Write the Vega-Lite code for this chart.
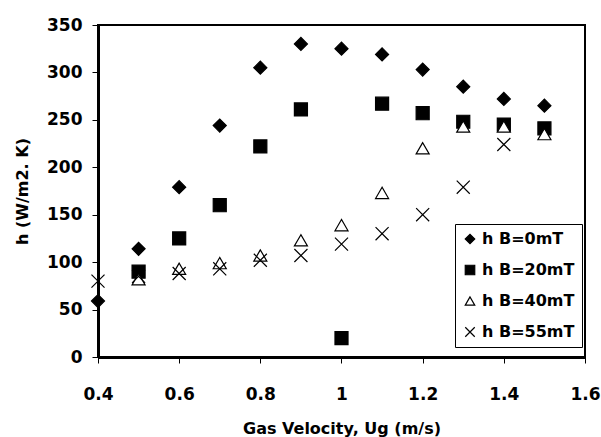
{
  "$schema": "https://vega.github.io/schema/vega-lite/v6.json",
  "width": 487,
  "height": 332,
  "autosize": {"type": "none"},
  "padding": {"left": 98, "top": 25, "right": 16, "bottom": 80},
  "background": "white",
  "config": {
    "font": "DejaVu Sans",
    "view": {"stroke": "black", "strokeWidth": 2},
    "axis": {
      "grid": false,
      "domainColor": "black",
      "domainWidth": 3,
      "tickColor": "black",
      "tickWidth": 1,
      "tickSize": 6,
      "labelFlush": false,
      "labelFont": "DejaVu Sans",
      "labelFontWeight": "bold",
      "labelFontSize": 17,
      "labelColor": "black",
      "titleFont": "DejaVu Sans",
      "titleFontWeight": "bold",
      "titleFontSize": 16,
      "titleColor": "black"
    }
  },
  "data": {
    "values": [
      {"u": 0.4, "h": 59, "series": "h B=0mT"},
      {"u": 0.5, "h": 114, "series": "h B=0mT"},
      {"u": 0.6, "h": 179, "series": "h B=0mT"},
      {"u": 0.7, "h": 244, "series": "h B=0mT"},
      {"u": 0.8, "h": 305, "series": "h B=0mT"},
      {"u": 0.9, "h": 330, "series": "h B=0mT"},
      {"u": 1.0, "h": 325, "series": "h B=0mT"},
      {"u": 1.1, "h": 319, "series": "h B=0mT"},
      {"u": 1.2, "h": 303, "series": "h B=0mT"},
      {"u": 1.3, "h": 285, "series": "h B=0mT"},
      {"u": 1.4, "h": 272, "series": "h B=0mT"},
      {"u": 1.5, "h": 265, "series": "h B=0mT"},
      {"u": 0.5, "h": 90, "series": "h B=20mT"},
      {"u": 0.6, "h": 125, "series": "h B=20mT"},
      {"u": 0.7, "h": 160, "series": "h B=20mT"},
      {"u": 0.8, "h": 222, "series": "h B=20mT"},
      {"u": 0.9, "h": 261, "series": "h B=20mT"},
      {"u": 1.0, "h": 20, "series": "h B=20mT"},
      {"u": 1.1, "h": 267, "series": "h B=20mT"},
      {"u": 1.2, "h": 257, "series": "h B=20mT"},
      {"u": 1.3, "h": 248, "series": "h B=20mT"},
      {"u": 1.4, "h": 245, "series": "h B=20mT"},
      {"u": 1.5, "h": 241, "series": "h B=20mT"},
      {"u": 0.5, "h": 82, "series": "h B=40mT"},
      {"u": 0.6, "h": 93, "series": "h B=40mT"},
      {"u": 0.7, "h": 99, "series": "h B=40mT"},
      {"u": 0.8, "h": 107, "series": "h B=40mT"},
      {"u": 0.9, "h": 123, "series": "h B=40mT"},
      {"u": 1.0, "h": 139, "series": "h B=40mT"},
      {"u": 1.1, "h": 173, "series": "h B=40mT"},
      {"u": 1.2, "h": 220, "series": "h B=40mT"},
      {"u": 1.3, "h": 243, "series": "h B=40mT"},
      {"u": 1.4, "h": 243, "series": "h B=40mT"},
      {"u": 1.5, "h": 235, "series": "h B=40mT"},
      {"u": 0.4, "h": 80, "series": "h B=55mT"},
      {"u": 0.5, "h": 85, "series": "h B=55mT"},
      {"u": 0.6, "h": 88, "series": "h B=55mT"},
      {"u": 0.7, "h": 93, "series": "h B=55mT"},
      {"u": 0.8, "h": 102, "series": "h B=55mT"},
      {"u": 0.9, "h": 107, "series": "h B=55mT"},
      {"u": 1.0, "h": 119, "series": "h B=55mT"},
      {"u": 1.1, "h": 130, "series": "h B=55mT"},
      {"u": 1.2, "h": 150, "series": "h B=55mT"},
      {"u": 1.3, "h": 179, "series": "h B=55mT"},
      {"u": 1.4, "h": 224, "series": "h B=55mT"}
    ]
  },
  "mark": {"type": "point", "filled": true, "strokeWidth": 1.2, "opacity": 1, "size": 170},
  "encoding": {
    "x": {
      "field": "u", "type": "quantitative",
      "scale": {"domain": [0.4, 1.6], "nice": false, "zero": false},
      "axis": {"values": [0.4, 0.6, 0.8, 1.0, 1.2, 1.4, 1.6], "format": ".1~f", "labelPadding": 23, "titlePadding": 18, "title": "Gas Velocity, Ug (m/s)"}
    },
    "y": {
      "field": "h", "type": "quantitative",
      "scale": {"domain": [0, 350], "nice": false},
      "axis": {"values": [0, 50, 100, 150, 200, 250, 300, 350], "labelPadding": 10, "titlePadding": 16, "title": "h (W/m2. K)"}
    },
    "shape": {
      "field": "series", "type": "nominal",
      "scale": {"domain": ["h B=0mT", "h B=20mT", "h B=40mT", "h B=55mT"], "range": ["diamond", "square", "triangle-up", "M-1,-1L1,1M1,-1L-1,1"]},
      "legend": {
        "title": null, "orient": "none", "legendX": 357, "legendY": 199,
        "strokeColor": "black", "fillColor": "white", "padding": 7,
        "labelFont": "DejaVu Sans", "labelFontWeight": "bold", "labelFontSize": 16, "labelColor": "black",
        "symbolSize": 90, "symbolStrokeWidth": 1.2, "rowPadding": 15, "labelOffset": 4
      }
    },
    "fill": {
      "field": "series", "type": "nominal",
      "scale": {"domain": ["h B=0mT", "h B=20mT", "h B=40mT", "h B=55mT"], "range": ["black", "black", "white", "transparent"]}
    },
    "stroke": {
      "field": "series", "type": "nominal",
      "scale": {"domain": ["h B=0mT", "h B=20mT", "h B=40mT", "h B=55mT"], "range": ["black", "black", "black", "black"]}
    }
  }
}
